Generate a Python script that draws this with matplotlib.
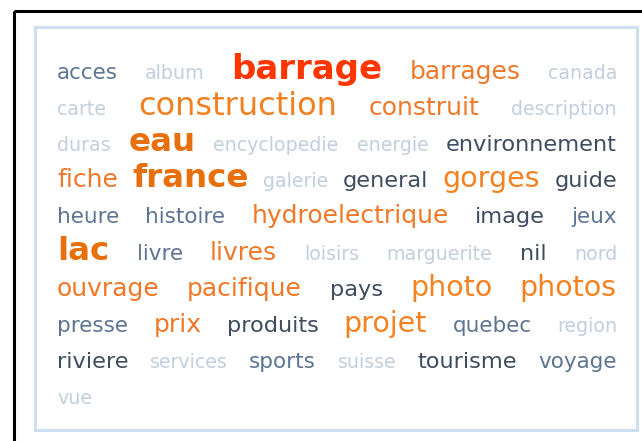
import matplotlib
matplotlib.use("Agg")
import matplotlib.pyplot as plt
from matplotlib.patches import Rectangle

# tag cloud data: word and its weight level (0 = rarest, 7 = most frequent)
words = [
    "acces", "album", "barrage", "barrages", "canada",
    "carte", "construction", "construit", "description",
    "duras", "eau", "encyclopedie", "energie", "environnement",
    "fiche", "france", "galerie", "general", "gorges", "guide",
    "heure", "histoire", "hydroelectrique", "image", "jeux",
    "lac", "livre", "livres", "loisirs", "marguerite", "nil", "nord",
    "ouvrage", "pacifique", "pays", "photo", "photos",
    "presse", "prix", "produits", "projet", "quebec", "region",
    "riviere", "services", "sports", "suisse", "tourisme", "voyage",
    "vue",
]
levels = [
    1, 0, 7, 3, 0,
    0, 5, 3, 0,
    0, 6, 0, 0, 2,
    3, 6, 0, 2, 4, 2,
    1, 1, 3, 2, 1,
    6, 1, 3, 0, 0, 2, 0,
    3, 3, 2, 4, 4,
    1, 3, 2, 4, 1, 0,
    2, 0, 1, 0, 2, 1,
    0,
]

# style per level
level_size = [13.7, 15.5, 16.2, 18.0, 20.5, 23.0, 23.4, 24.5]
level_color = ["#c3cfdd", "#5d7592", "#3e4c5f", "#f07828", "#f58220",
               "#f08020", "#e8700c", "#ff3600"]
level_weight = ["normal"] * 6 + ["bold", "bold"]

W, H = 642, 441
fig = plt.figure(figsize=(W / 100, H / 100), dpi=100)
ax = fig.add_axes([0, 0, 1, 1])
ax.set_xlim(0, W)
ax.set_ylim(H, 0)
ax.axis("off")

# frames
ax.add_patch(Rectangle((13.5, 10.5), 700, 500, fill=False, ec="black", lw=2.2))
ax.add_patch(Rectangle((34.5, 26.5), 602.5, 403, fill=False, ec="#cddff0", lw=2.2))

left, right = 57, 617
top_base, pitch = 79, 36.1
min_gap = 14

renderer = fig.canvas.get_renderer()
texts = []
for w, lv in zip(words, levels):
    t = ax.text(0, 0, w, fontsize=level_size[lv], color=level_color[lv],
                fontweight=level_weight[lv], family="DejaVu Sans",
                ha="left", va="baseline")
    bb = t.get_window_extent(renderer)
    texts.append((t, bb.width))

# greedy line filling
lines, cur, cur_w = [], [], 0
for t, wd in texts:
    need = wd if not cur else cur_w + min_gap + wd
    if cur and need > right - left:
        lines.append(cur)
        cur, cur_w = [(t, wd)], wd
    else:
        cur.append((t, wd))
        cur_w = need
if cur:
    lines.append(cur)

# justified placement, last line left aligned
for i, line in enumerate(lines):
    total = sum(wd for _, wd in line)
    if i < len(lines) - 1 and len(line) > 1:
        gap = (right - left - total) / (len(line) - 1)
    else:
        gap = min_gap
    x = left
    y = top_base + i * pitch
    for t, wd in line:
        t.set_position((x, y))
        x += wd + gap

fig.savefig("out.png", dpi=100)
